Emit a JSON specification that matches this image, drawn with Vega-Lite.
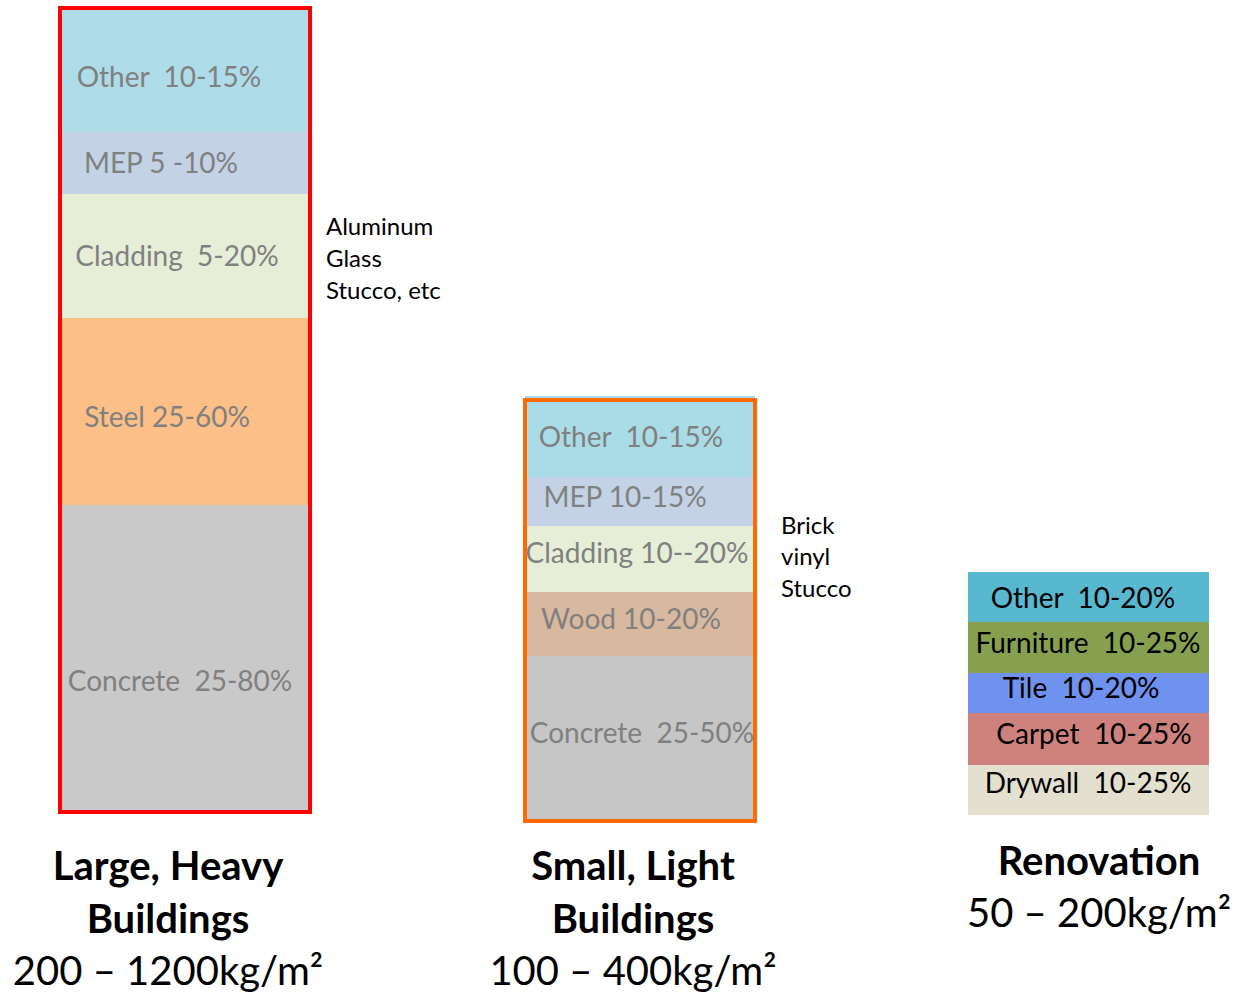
{
  "$schema": "https://vega.github.io/schema/vega-lite/v6.json",
  "width": 1237,
  "height": 996,
  "padding": 0,
  "autosize": {"type": "fit", "contains": "padding"},
  "background": "white",
  "config": {"view": {"stroke": null}, "font": "Lato"},
  "datasets": {
    "segments": [
      {"building": "Large, Heavy", "segment": "L Other", "x0": 62, "x1": 308, "y0": 8, "y1": 132},
      {"building": "Large, Heavy", "segment": "L MEP", "x0": 62, "x1": 308, "y0": 132, "y1": 194},
      {"building": "Large, Heavy", "segment": "L Cladding", "x0": 62, "x1": 308, "y0": 194, "y1": 318},
      {"building": "Large, Heavy", "segment": "L Steel", "x0": 62, "x1": 308, "y0": 318, "y1": 505},
      {"building": "Large, Heavy", "segment": "L Concrete", "x0": 62, "x1": 308, "y0": 505, "y1": 812},
      {"building": "Small, Light", "segment": "S Other", "x0": 525, "x1": 755, "y0": 396, "y1": 477},
      {"building": "Small, Light", "segment": "S MEP", "x0": 525, "x1": 755, "y0": 477, "y1": 526},
      {"building": "Small, Light", "segment": "S Cladding", "x0": 525, "x1": 755, "y0": 526, "y1": 592},
      {"building": "Small, Light", "segment": "S Wood", "x0": 525, "x1": 755, "y0": 592, "y1": 656},
      {"building": "Small, Light", "segment": "S Concrete", "x0": 525, "x1": 755, "y0": 656, "y1": 821},
      {"building": "Renovation", "segment": "R Other", "x0": 968, "x1": 1209, "y0": 572, "y1": 622},
      {"building": "Renovation", "segment": "R Furniture", "x0": 968, "x1": 1209, "y0": 622, "y1": 673},
      {"building": "Renovation", "segment": "R Tile", "x0": 968, "x1": 1209, "y0": 673, "y1": 713},
      {"building": "Renovation", "segment": "R Carpet", "x0": 968, "x1": 1209, "y0": 713, "y1": 765},
      {"building": "Renovation", "segment": "R Drywall", "x0": 968, "x1": 1209, "y0": 765, "y1": 815}
    ],
    "outlines": [
      {"building": "Large, Heavy", "x0": 60, "x1": 310, "y0": 8, "y1": 812},
      {"building": "Small, Light", "x0": 525, "x1": 755, "y0": 400, "y1": 821}
    ],
    "labels": [
      {"kind": "gray", "text": "Other \u00a010-15%", "x": 169, "y": 77},
      {"kind": "gray", "text": "MEP 5 -10%", "x": 161, "y": 163},
      {"kind": "gray", "text": "Cladding \u00a05-20%", "x": 177, "y": 256},
      {"kind": "gray", "text": "Steel 25-60%", "x": 167, "y": 417},
      {"kind": "gray", "text": "Concrete \u00a025-80%", "x": 180, "y": 681},
      {"kind": "gray", "text": "Other \u00a010-15%", "x": 631, "y": 437},
      {"kind": "gray", "text": "MEP 10-15%", "x": 625, "y": 497},
      {"kind": "gray", "text": "Cladding 10--20%", "x": 637, "y": 553},
      {"kind": "gray", "text": "Wood 10-20%", "x": 631, "y": 619},
      {"kind": "gray", "text": "Concrete \u00a025-50%", "x": 642, "y": 733},
      {"kind": "black", "text": "Other \u00a010-20%", "x": 1083, "y": 598},
      {"kind": "black", "text": "Furniture \u00a010-25%", "x": 1088, "y": 643},
      {"kind": "black", "text": "Tile \u00a010-20%", "x": 1081, "y": 688},
      {"kind": "black", "text": "Carpet \u00a010-25%", "x": 1094, "y": 734},
      {"kind": "black", "text": "Drywall \u00a010-25%", "x": 1088, "y": 783},
      {"kind": "note", "text": "Aluminum", "x": 326, "y": 227},
      {"kind": "note", "text": "Glass", "x": 326, "y": 259},
      {"kind": "note", "text": "Stucco, etc", "x": 326, "y": 291},
      {"kind": "note", "text": "Brick", "x": 781, "y": 526},
      {"kind": "note", "text": "vinyl", "x": 781, "y": 557},
      {"kind": "note", "text": "Stucco", "x": 781, "y": 589},
      {"kind": "title", "text": "Large, Heavy", "x": 168, "y": 866},
      {"kind": "title", "text": "Buildings", "x": 168, "y": 919},
      {"kind": "sub", "text": "200 – 1200kg/m²", "x": 168, "y": 971},
      {"kind": "title", "text": "Small, Light", "x": 633, "y": 866},
      {"kind": "title", "text": "Buildings", "x": 633, "y": 919},
      {"kind": "sub", "text": "100 – 400kg/m²", "x": 633, "y": 971},
      {"kind": "title", "text": "Renovation", "x": 1099, "y": 861},
      {"kind": "sub", "text": "50 – 200kg/m²", "x": 1099, "y": 913}
    ]
  },
  "layer": [
    {
      "data": {"name": "segments"},
      "mark": {"type": "rect"},
      "encoding": {
        "x": {"field": "x0", "type": "quantitative", "scale": {"domain": [0, 1237], "nice": false, "zero": false}, "axis": null},
        "x2": {"field": "x1"},
        "y": {"field": "y0", "type": "quantitative", "scale": {"domain": [0, 996], "nice": false, "zero": false, "reverse": true}, "axis": null},
        "y2": {"field": "y1"},
        "color": {
          "field": "segment", "type": "nominal", "legend": null,
          "scale": {
            "domain": ["L Other", "L MEP", "L Cladding", "L Steel", "L Concrete", "S Other", "S MEP", "S Cladding", "S Wood", "S Concrete", "R Other", "R Furniture", "R Tile", "R Carpet", "R Drywall"],
            "range": ["#AEDCE8", "#C3D3E5", "#E6EED8", "#FDBF88", "#C9C9C9", "#A9DCE6", "#C3D3E5", "#E6EED8", "#D8B89E", "#C6C6C6", "#57B8D0", "#87A050", "#6E92EE", "#CF827D", "#E4E0D0"]
          }
        }
      }
    },
    {
      "data": {"name": "outlines"},
      "mark": {"type": "rect", "fill": null, "filled": false, "strokeWidth": 4},
      "encoding": {
        "x": {"field": "x0", "type": "quantitative"},
        "x2": {"field": "x1"},
        "y": {"field": "y0", "type": "quantitative"},
        "y2": {"field": "y1"},
        "stroke": {"field": "building", "type": "nominal", "legend": null, "scale": {"domain": ["Large, Heavy", "Small, Light"], "range": ["#FF0000", "#FF6A00"]}}
      }
    },
    {
      "data": {"name": "labels"},
      "transform": [{"filter": "datum.kind === 'gray'"}],
      "mark": {"type": "text", "align": "center", "baseline": "middle", "dy": 2, "fontSize": 28, "color": "#808080", "font": "Lato"},
      "encoding": {
        "x": {"field": "x", "type": "quantitative"},
        "y": {"field": "y", "type": "quantitative"},
        "text": {"field": "text"}
      }
    },
    {
      "data": {"name": "labels"},
      "transform": [{"filter": "datum.kind === 'black'"}],
      "mark": {"type": "text", "align": "center", "baseline": "middle", "dy": 2, "fontSize": 28, "color": "#000000", "font": "Lato"},
      "encoding": {
        "x": {"field": "x", "type": "quantitative"},
        "y": {"field": "y", "type": "quantitative"},
        "text": {"field": "text"}
      }
    },
    {
      "data": {"name": "labels"},
      "transform": [{"filter": "datum.kind === 'note'"}],
      "mark": {"type": "text", "align": "left", "baseline": "middle", "dy": 1, "fontSize": 24, "color": "#000000", "font": "Lato"},
      "encoding": {
        "x": {"field": "x", "type": "quantitative"},
        "y": {"field": "y", "type": "quantitative"},
        "text": {"field": "text"}
      }
    },
    {
      "data": {"name": "labels"},
      "transform": [{"filter": "datum.kind === 'title'"}],
      "mark": {"type": "text", "align": "center", "baseline": "middle", "dy": 2, "fontSize": 40, "fontWeight": "bold", "color": "#000000", "font": "Lato"},
      "encoding": {
        "x": {"field": "x", "type": "quantitative"},
        "y": {"field": "y", "type": "quantitative"},
        "text": {"field": "text"}
      }
    },
    {
      "data": {"name": "labels"},
      "transform": [{"filter": "datum.kind === 'sub'"}],
      "mark": {"type": "text", "align": "center", "baseline": "middle", "dy": 2, "fontSize": 40, "color": "#000000", "font": "Lato"},
      "encoding": {
        "x": {"field": "x", "type": "quantitative"},
        "y": {"field": "y", "type": "quantitative"},
        "text": {"field": "text"}
      }
    }
  ]
}
